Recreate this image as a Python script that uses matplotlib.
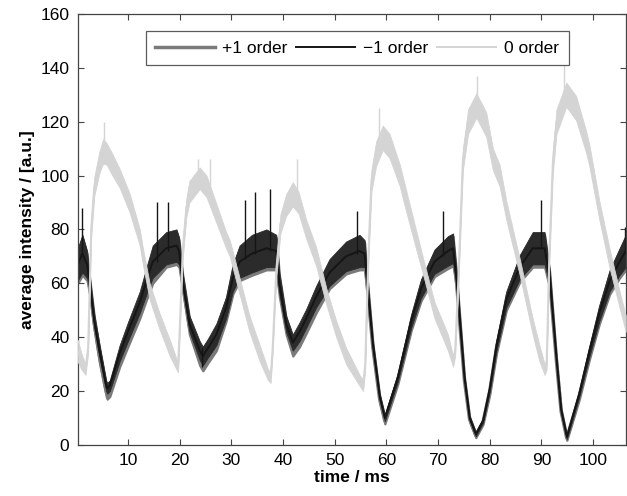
import matplotlib
matplotlib.use("Agg")
import matplotlib.pyplot as plt
import numpy as np

plt.rcParams['font.family'] = ['Liberation Sans', 'DejaVu Sans']

# -1 order (black) and +1 order (gray) share the time grid, values in a.u.
t_pm = [0.3, 1.2, 2.1, 2.6, 3.5, 4.5, 5.8, 6.0, 6.5, 8.4,
        10.0, 12.3, 13.6, 14.8, 17.4, 19.4, 19.9, 20.6, 21.9, 23.9,
        24.5, 25.5, 27.1, 29.0, 30.3, 31.6, 34.0, 36.8, 38.7, 39.3,
        40.6, 41.9, 43.2, 44.5, 46.4, 49.0, 52.2, 54.8, 55.8, 56.2,
        57.4, 58.7, 59.7, 62.2, 64.8, 66.7, 69.3, 71.9, 72.9, 73.5,
        75.1, 76.1, 77.3, 78.7, 80.0, 81.3, 83.2, 85.8, 88.3, 90.6,
        91.6, 92.9, 93.8, 94.9, 97.3, 99.3, 101.2, 103.2, 105.1, 106.3]
minus1 = [67, 71, 67, 60, 46, 35, 22, 21, 22, 34,
          42, 53, 61, 68, 73, 74, 72, 61, 45, 35,
          33, 36, 41, 51, 62, 68, 71, 73, 72, 60,
          45, 38, 42, 47, 55, 64, 70, 72, 71, 62,
          37, 18, 10, 25, 46, 58, 68, 72, 73, 63,
          25, 10, 4, 9, 21, 37, 54, 66, 73, 73,
          62, 32, 13, 3, 19, 35, 49, 61, 68, 72]
plus1 = [66, 70, 66, 59, 45, 33, 20, 19, 20, 32,
         40, 51, 59, 66, 72, 73, 71, 60, 44, 33,
         31, 34, 39, 50, 61, 67, 70, 72, 71, 59,
         44, 36, 40, 45, 53, 63, 69, 71, 70, 61,
         36, 17, 9, 24, 45, 57, 67, 71, 72, 62,
         24, 9.5, 3.5, 8.5, 20, 36, 53, 65, 72, 72,
         61, 31, 12.5, 2.5, 18, 34, 48, 60, 67, 71]
# noise half-width of the +/-1 order traces
noise_pm = [6, 7, 5, 3, 2.5, 2.5, 2, 2, 2, 3,
            3.5, 4, 5, 6, 6, 6, 5, 3, 3, 3.5,
            3.5, 3.5, 4, 4, 5, 6, 7, 7, 6, 4,
            3, 3, 3.5, 3.5, 4, 5, 5.5, 6, 5, 3,
            1.5, 1.2, 1.2, 1.5, 2.5, 3.5, 4.5, 5.5, 5.5, 3,
            1, 0.8, 0.8, 0.8, 1.2, 2, 3, 4.5, 6, 6,
            3, 1, 0.8, 0.8, 1.2, 2, 3, 4, 5, 6]

# 0 order (light gray)
t_zero = [0.3, 1.0, 1.8, 2.3, 2.9, 3.5, 4.5, 5.2, 5.9, 7.0,
          8.4, 10.3, 12.3, 12.9, 14.2, 16.1, 18.1, 19.4, 19.7, 20.0,
          20.6, 21.3, 21.9, 23.9, 25.2, 27.1, 29.0, 29.7, 31.6, 33.5,
          35.5, 37.1, 37.6, 38.0, 38.7, 39.5, 40.6, 41.9, 43.0, 44.5,
          46.4, 48.4, 50.3, 52.2, 54.8, 55.5, 55.9, 56.5, 57.1, 58.0,
          59.3, 60.6, 62.6, 63.5, 65.5, 67.4, 69.3, 71.9, 72.9, 73.3,
          73.8, 74.8, 75.8, 77.4, 79.3, 80.6, 81.9, 83.2, 85.8, 88.3,
          89.6, 90.6, 91.0, 91.5, 92.2, 92.9, 94.8, 96.7, 98.7, 99.3,
          101.2, 103.2, 105.1, 106.3]
zero = [35, 31, 28, 36, 80, 96, 105, 109, 108, 104,
        99, 90, 77, 70, 57, 46, 36, 30, 29, 42,
        72, 88, 94, 99, 96, 86, 76, 73, 59, 45,
        34, 26, 25, 36, 65, 82, 89, 93, 90, 80,
        70, 55, 43, 33, 24, 22, 30, 70, 98, 108,
        114, 111, 100, 93, 78, 64, 50, 38, 31, 35,
        56, 106, 120, 126, 119, 106, 100, 87, 66, 44,
        34, 28, 30, 70, 105, 120, 130, 125, 112, 107,
        87, 69, 54, 45]
noise_zero = [4, 3, 2, 2, 3, 3.5, 4, 4.5, 4, 4,
              3.5, 3.5, 3, 3, 3, 3, 3, 2, 2, 2,
              3, 3.5, 4, 4, 4, 3.5, 3, 3, 3, 3,
              3, 2, 2, 2, 3, 3.5, 4, 4.5, 4, 3.5,
              3.5, 3, 3, 3, 2, 2, 2, 3, 4, 4.5,
              4.5, 4.5, 4, 4, 3.5, 3, 3, 3, 2, 2,
              3, 4, 4.5, 4.5, 4.5, 4, 4, 3.5, 3, 3,
              3, 2, 2, 3, 4, 4.5, 4.5, 4.5, 4, 4,
              3.5, 3.5, 3, 3]

# single noise spikes (time, low, high)
spikes_minus1 = [(1.2, 70, 88), (15.6, 68, 90), (17.7, 72, 90), (24.3, 29, 36),
                 (32.6, 69, 91), (34.5, 71, 94), (37.5, 72, 95), (54.3, 71, 87),
                 (70.9, 70, 87), (90.0, 73, 91), (106.1, 71, 81)]
spikes_zero = [(5.4, 108, 120), (23.6, 99, 106), (25.8, 93, 106), (42.8, 91, 106),
               (58.5, 110, 125), (77.5, 126, 137), (94.3, 128, 141)]

c_p1, c_m1, c_0 = '#7a7a7a', '#151515', '#d4d4d4'
c_m1_noise = '#2b2b2b'

fig = plt.figure(figsize=(6.27, 4.96), dpi=100)
ax = fig.add_axes([0.124, 0.103, 0.874, 0.869])

t = np.array(t_pm)
p1 = np.array(plus1)
m1 = np.array(minus1)
w = np.array(noise_pm)
ax.fill_between(t, p1 - w, p1 + w, color=c_p1, lw=1.6, edgecolor=c_p1, zorder=1)
ax.plot(t, p1, color=c_p1, lw=2.5, label='+1 order', zorder=1.1)
ax.fill_between(t, m1 - w, m1 + w, color=c_m1_noise, lw=0.6, edgecolor=c_m1_noise, zorder=2)
ax.plot(t, m1, color=c_m1, lw=1.4, label='\u22121 order', zorder=2.1)
for s in spikes_minus1:
    ax.vlines(s[0], s[1], s[2], color=c_m1, lw=1.0, zorder=2.2)

t0 = np.array(t_zero)
z0 = np.array(zero)
w0 = np.array(noise_zero)
ax.fill_between(t0, z0 - w0, z0 + w0, color=c_0, lw=0.6, edgecolor=c_0, zorder=3)
ax.plot(t0, z0, color=c_0, lw=1.4, label='0 order', zorder=3.1)
for s in spikes_zero:
    ax.vlines(s[0], s[1], s[2], color=c_0, lw=1.0, zorder=3.2)

ax.set_xlim(0.3, 106.3)
ax.set_ylim(0, 160)
ax.set_xticks(range(10, 101, 10))
ax.set_yticks(range(0, 161, 20))
ax.tick_params(direction='in', top=True, right=True, labelsize=12.5,
               length=4, color='#444444', pad=6)
for sp in ax.spines.values():
    sp.set_color('#444444')
    sp.set_linewidth(0.9)

ax.set_xlabel('time / ms', fontsize=12.5, fontweight='bold', labelpad=1)
ax.set_ylabel('average intensity / [a.u.]', fontsize=12.5, fontweight='bold', labelpad=4)

leg = ax.legend(loc='upper center', bbox_to_anchor=(0.51, 0.96), ncol=3,
                fontsize=12.5, fancybox=False, edgecolor='#333333',
                handlelength=3.4, columnspacing=0.5, handletextpad=0.45,
                borderpad=0.55, borderaxespad=0)
leg.get_frame().set_linewidth(0.9)

fig.savefig('out.png', dpi=100)
